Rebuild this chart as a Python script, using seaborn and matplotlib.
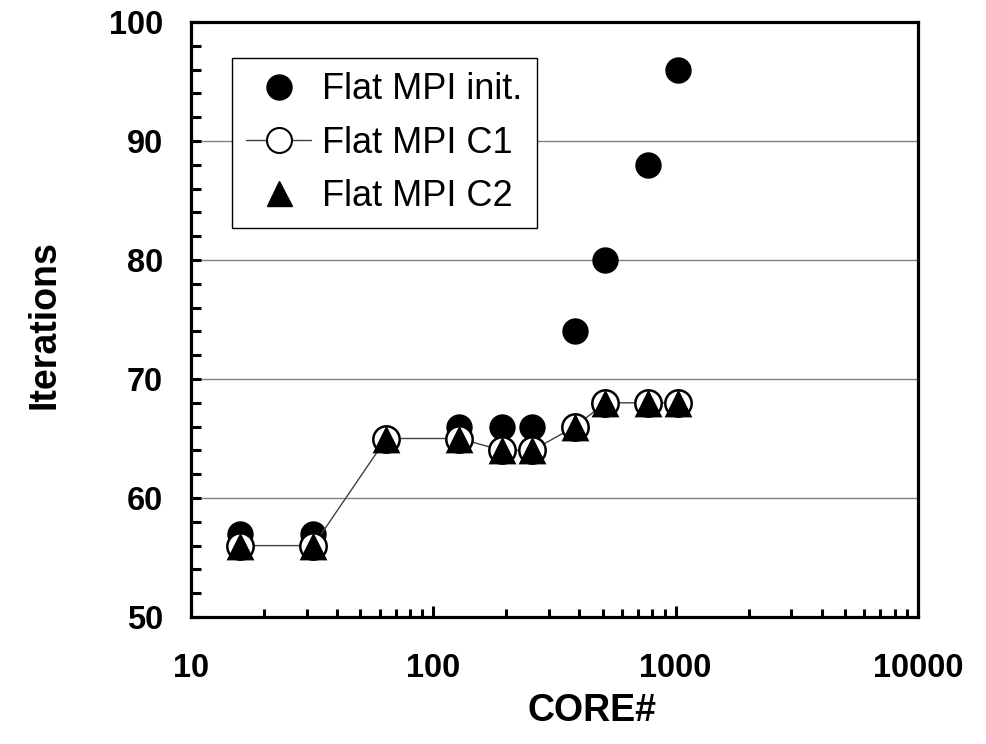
import matplotlib
matplotlib.use('Agg')
import matplotlib.pyplot as plt
import seaborn as sns
from matplotlib.lines import Line2D
from matplotlib.ticker import MultipleLocator, FixedLocator, LogLocator, NullFormatter

# Data
cores = [16, 32, 64, 128, 192, 256, 384, 512, 768, 1024]
flat_init = [57, 57, 65, 66, 66, 66, 74, 80, 88, 96]
flat_c1 = [56, 56, 65, 65, 64, 64, 66, 68, 68, 68]
flat_c2 = [56, 56, 65, 65, 64, 64, 66, 68, 68, 68]

labels = ['Flat MPI init.', 'Flat MPI C1', 'Flat MPI C2']
xticks = [10, 100, 1000, 10000]
xtick_labels = ['10', '100', '1000', '10000']
yticks = [50, 60, 70, 80, 90, 100]

sns.set_style('white')
plt.rcParams['font.family'] = ['Liberation Sans', 'DejaVu Sans']
plt.rcParams['text.color'] = 'black'
plt.rcParams['axes.labelcolor'] = 'black'
plt.rcParams['xtick.color'] = 'black'
plt.rcParams['ytick.color'] = 'black'

fig = plt.figure(figsize=(9.87, 7.44), dpi=100)
ax = fig.add_axes([0.1935, 0.1707, 0.7366, 0.7997])

# grid lines at major y values
for y in yticks[1:-1]:
    ax.axhline(y, color='#808080', linewidth=1, zorder=0)

sns.scatterplot(x=cores, y=flat_init, marker='o', s=19 ** 2, color='black',
                edgecolor='black', linewidth=0, ax=ax, zorder=2)
sns.lineplot(x=cores, y=flat_c1, marker='o', markersize=19, color='#404040',
             linewidth=1, markerfacecolor='white', markeredgecolor='black',
             markeredgewidth=1.8, ax=ax, zorder=3)
sns.scatterplot(x=cores, y=flat_c2, marker='^', s=20 ** 2, color='black',
                edgecolor='black', linewidth=0, ax=ax, zorder=4)

ax.set_xscale('log')
ax.set_xlim(10, 10000)
ax.set_ylim(50, 100)

ax.xaxis.set_major_locator(FixedLocator(xticks))
ax.set_xticklabels(xtick_labels)
ax.xaxis.set_minor_locator(LogLocator(base=10, subs=range(2, 10)))
ax.xaxis.set_minor_formatter(NullFormatter())
ax.set_yticks(yticks)
ax.yaxis.set_minor_locator(MultipleLocator(2))

for sp in ax.spines.values():
    sp.set_visible(True)
    sp.set_linewidth(2.3)
    sp.set_color('black')

ax.tick_params(which='both', direction='in', bottom=True, left=True,
               top=False, right=False, width=2.2, color='black')
ax.tick_params(axis='x', which='major', length=8, pad=26, labelsize=23.5)
ax.tick_params(axis='x', which='minor', length=6)
ax.tick_params(axis='y', which='both', length=7)
ax.tick_params(axis='y', which='major', pad=20, labelsize=23.5)
for t in ax.get_xticklabels() + ax.get_yticklabels():
    t.set_fontweight('bold')
    t.set_color('black')

ax.set_xlabel('CORE#', fontsize=27, fontweight='bold', color='black')
ax.set_ylabel('Iterations', fontsize=27, fontweight='bold', color='black')
ax.xaxis.set_label_coords(0.552, -0.127)
ax.yaxis.set_label_coords(-0.177, 0.492)

handles = [
    Line2D([], [], linestyle='none', marker='o', markersize=18, color='black'),
    Line2D([], [], color='#404040', linewidth=1, marker='o', markersize=18,
           markerfacecolor='white', markeredgecolor='black', markeredgewidth=1.5),
    Line2D([], [], linestyle='none', marker='^', markersize=18, color='black'),
]
leg = ax.legend(handles, labels, loc='upper left', bbox_to_anchor=(0.0564, 0.9395),
                borderaxespad=0, fontsize=26, frameon=True, fancybox=False,
                framealpha=1, edgecolor='black', handlelength=1.8,
                handletextpad=0.3, labelspacing=0.5, borderpad=0.4)
leg.get_frame().set_linewidth(1)
leg.set_zorder(10)
for t in leg.get_texts():
    t.set_color('black')

fig.savefig('out.png', dpi=100)
